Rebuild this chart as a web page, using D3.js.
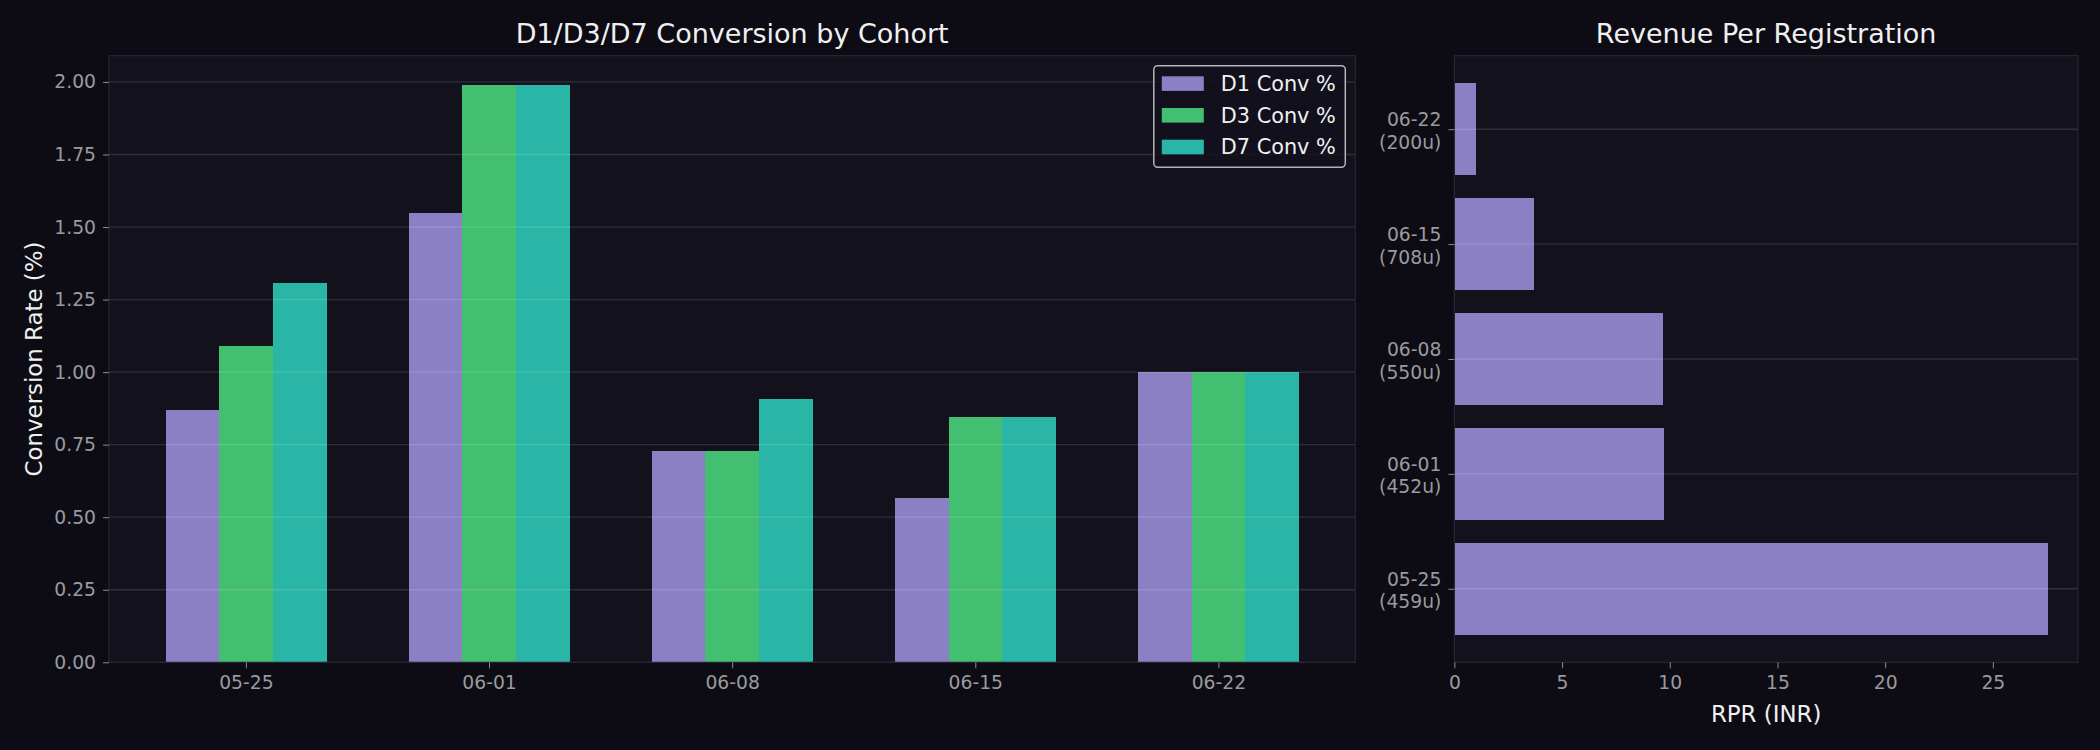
<!DOCTYPE html>
<html>
<head>
<meta charset="utf-8">
<script src="https://cdn.jsdelivr.net/npm/d3@7"></script>
<style>
  html, body { margin: 0; padding: 0; background: #0d0c14; }
  svg { display: block; font-family: "DejaVu Sans", sans-serif; }
</style>
</head>
<body>
<div id="chart"></div>
<script>
// cohort data
const cohorts = ['05-25', '06-01', '06-08', '06-15', '06-22'];
const users = [459, 452, 550, 708, 200];
const d1Conv = [0.871, 1.549, 0.727, 0.565, 1.00];
const d3Conv = [1.089, 1.991, 0.727, 0.847, 1.00];
const d7Conv = [1.307, 1.991, 0.909, 0.847, 1.00];
const rpr = [27.57, 9.73, 9.67, 3.70, 1.00];
const seriesNames = ['D1 Conv %', 'D3 Conv %', 'D7 Conv %'];
const convTicks = [0, 0.25, 0.5, 0.75, 1.0, 1.25, 1.5, 1.75, 2.0];
const rprTicks = [0, 5, 10, 15, 20, 25];

// styling
const colors = ['#8b80c4', '#43bf71', '#2ab6a7'];
const bg = '#0d0c14', panelBg = '#12111c', spine = '#272633';
const gridColor = 'rgba(255,255,255,0.13)';
const tickText = '#9a9a9e', tickLine = '#8a8a92', white = '#f0f0f0';
const tickFont = 18.75, labelFont = 22.9, titleFont = 27;

let config = {
    svg: {width: 2100, height: 750},
    left:  {x0: 109, x1: 1355.3, y0: 55.7, y1: 662.3},
    right: {x0: 1454.4, x1: 2077.9, y0: 55.7, y1: 662.3}
};

let svg = d3.select('#chart').append('svg')
    .attr('width', config.svg.width)
    .attr('height', config.svg.height);

svg.append('rect').attr('width', config.svg.width).attr('height', config.svg.height).attr('fill', bg);

function panel(p) {
    svg.append('rect')
        .attr('x', p.x0).attr('y', p.y0)
        .attr('width', p.x1 - p.x0).attr('height', p.y1 - p.y0)
        .attr('fill', panelBg);
}
function frame(p) {
    svg.append('rect')
        .attr('x', p.x0).attr('y', p.y0)
        .attr('width', p.x1 - p.x0).attr('height', p.y1 - p.y0)
        .attr('fill', 'none').attr('stroke', spine).attr('stroke-width', 1.2);
}
function styleAxis(g) {
    g.select('.domain').remove();
    g.selectAll('.tick line').attr('stroke', tickLine).attr('stroke-width', 1);
    g.selectAll('.tick text')
        .attr('fill', tickText)
        .attr('font-size', tickFont)
        .attr('font-family', '"DejaVu Sans", sans-serif');
}

// ---------- left: grouped bars ----------
let L = config.left;
panel(L);

const barW = 0.22;
const groups = cohorts.map((c, i) => ({cohort: c, i: i, vals: [d1Conv[i], d3Conv[i], d7Conv[i]]}));
const span = (cohorts.length - 1) + 3 * barW;
const xPad = span * 0.05;

let x = d3.scaleLinear()
    .domain([-1.5 * barW - xPad, cohorts.length - 1 + 1.5 * barW + xPad])
    .range([L.x0, L.x1]);

let y = d3.scaleLinear()
    .domain([0, d3.max([...d1Conv, ...d3Conv, ...d7Conv]) * 1.05])
    .range([L.y1, L.y0]);

svg.append('g')
    .attr('shape-rendering', 'crispEdges')
    .selectAll('g')
    .data(groups)
    .join('g')
    .selectAll('rect')
    .data(d => d.vals.map((v, j) => ({i: d.i, j: j, v: v})))
    .join('rect')
        .attr('x', d => x(d.i + (d.j - 1.5) * barW))
        .attr('width', d => x(barW) - x(0) + 0.5)
        .attr('y', d => y(d.v))
        .attr('height', d => y(0) - y(d.v))
        .attr('fill', d => colors[d.j]);

// grid on top of the bars
svg.append('g')
    .selectAll('line')
    .data(convTicks)
    .join('line')
        .attr('x1', L.x0).attr('x2', L.x1)
        .attr('y1', d => y(d)).attr('y2', d => y(d))
        .attr('stroke', gridColor).attr('stroke-width', 1.3);

frame(L);

svg.append('g')
    .attr('transform', `translate(${L.x0},0)`)
    .call(d3.axisLeft(y).tickValues(convTicks).tickFormat(d3.format('.2f')).tickSize(6).tickPadding(7))
    .call(styleAxis);

svg.append('g')
    .attr('transform', `translate(0,${L.y1})`)
    .call(d3.axisBottom(x).tickValues(d3.range(cohorts.length)).tickFormat(i => cohorts[i]).tickSize(6).tickPadding(7))
    .call(styleAxis);

svg.append('text')
    .attr('transform', `translate(41.7,${(L.y0 + L.y1) / 2}) rotate(-90)`)
    .attr('text-anchor', 'middle')
    .attr('fill', white)
    .attr('font-size', labelFont)
    .text('Conversion Rate (%)');

svg.append('text')
    .attr('x', (L.x0 + L.x1) / 2).attr('y', 43)
    .attr('text-anchor', 'middle')
    .attr('fill', white)
    .attr('font-size', titleFont)
    .text('D1/D3/D7 Conversion by Cohort');

// legend
let legend = svg.append('g').attr('transform', 'translate(1153.8,65.7)');
legend.append('rect')
    .attr('width', 191.5).attr('height', 101.6)
    .attr('rx', 4)
    .attr('fill', panelBg).attr('fill-opacity', 0.85)
    .attr('stroke', '#b4b4b8').attr('stroke-width', 1.5);
let items = legend.selectAll('g.item')
    .data(seriesNames)
    .join('g')
        .attr('class', 'item')
        .attr('transform', (d, k) => `translate(8,${10.6 + k * 31.7})`);
items.append('rect')
    .attr('width', 42).attr('height', 14.6)
    .attr('fill', (d, k) => colors[k]);
items.append('text')
    .attr('x', 59).attr('y', 14.6)
    .attr('fill', white)
    .attr('font-size', 20.8)
    .text(d => d);

// ---------- right: revenue per registration ----------
let R = config.right;
panel(R);

const barH = 0.8;
const yPad = ((cohorts.length - 1) + barH) * 0.05;

let xr = d3.scaleLinear()
    .domain([0, d3.max(rpr) * 1.05])
    .range([R.x0, R.x1]);

let yr = d3.scaleLinear()
    .domain([-barH / 2 - yPad, cohorts.length - 1 + barH / 2 + yPad])
    .range([R.y1, R.y0]);

svg.append('g')
    .attr('shape-rendering', 'crispEdges')
    .selectAll('rect')
    .data(rpr)
    .join('rect')
        .attr('x', xr(0))
        .attr('width', d => xr(d) - xr(0))
        .attr('y', (d, i) => yr(i + barH / 2))
        .attr('height', yr(0) - yr(barH))
        .attr('fill', colors[0]);

svg.append('g')
    .selectAll('line')
    .data(d3.range(cohorts.length))
    .join('line')
        .attr('x1', R.x0).attr('x2', R.x1)
        .attr('y1', d => yr(d)).attr('y2', d => yr(d))
        .attr('stroke', gridColor).attr('stroke-width', 1.3);

frame(R);

svg.append('g')
    .attr('transform', `translate(0,${R.y1})`)
    .call(d3.axisBottom(xr).tickValues(rprTicks).tickFormat(d3.format('d')).tickSize(6).tickPadding(7))
    .call(styleAxis);

let yAxisR = svg.append('g')
    .attr('transform', `translate(${R.x0},0)`)
    .call(d3.axisLeft(yr).tickValues(d3.range(cohorts.length)).tickFormat(i => cohorts[i]).tickSize(6).tickPadding(7))
    .call(styleAxis);

// two-line cohort labels
yAxisR.selectAll('.tick text')
    .attr('dy', null)
    .text(null)
    .each(function(i) {
        let t = d3.select(this);
        t.append('tspan').attr('x', -13).attr('y', -3.4).text(cohorts[i]);
        t.append('tspan').attr('x', -13).attr('y', 19.1).text(`(${users[i]}u)`);
    });

svg.append('text')
    .attr('x', (R.x0 + R.x1) / 2).attr('y', 721.7)
    .attr('text-anchor', 'middle')
    .attr('fill', white)
    .attr('font-size', labelFont)
    .text('RPR (INR)');

svg.append('text')
    .attr('x', (R.x0 + R.x1) / 2).attr('y', 43)
    .attr('text-anchor', 'middle')
    .attr('fill', white)
    .attr('font-size', titleFont)
    .text('Revenue Per Registration');
</script>
</body>
</html>
